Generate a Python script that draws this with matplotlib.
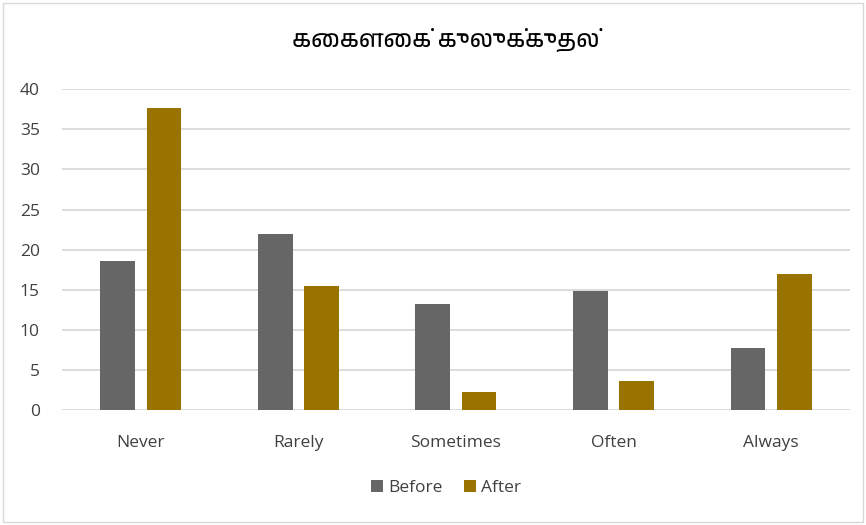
import numpy as np
import matplotlib
matplotlib.use("Agg")
import matplotlib.pyplot as plt
from matplotlib import font_manager
from matplotlib.patches import Rectangle

categories = ["Never", "Rarely", "Sometimes", "Often", "Always"]
before = [18.6, 22.0, 13.2, 14.8, 7.7]
after = [37.7, 15.5, 2.3, 3.6, 17.0]
title = "கைகளைக் குலுக்குதல்"

# look for any installed font that can draw Tamil
names = sorted({f.name for f in font_manager.fontManager.ttflist})
tamil = [n for n in names if "Tamil" in n or "Lohit" in n or "Latha" in n]
title_family = tamil[:1] + ["DejaVu Sans"]

plt.rcParams["font.family"] = ["Open Sans", "DejaVu Sans"]

fig = plt.figure(figsize=(8.66, 5.25), dpi=100)
ax = fig.add_axes([0.0716, 0.219, 0.9099, 0.611])

x = np.arange(len(categories))
w = 0.22
ax.bar(x - 0.147, before, w, color="#666666", label="Before", zorder=3)
ax.bar(x + 0.147, after, w, color="#997300", label="After", zorder=3)

ax.set_xlim(-0.5, 4.5)
ax.set_ylim(0, 40)
ax.set_yticks(range(0, 45, 5))
ax.set_xticks(x)
ax.set_xticklabels(categories)
ax.grid(axis="y", color="#d9d9d9", linewidth=1.3, zorder=0)
for s in ax.spines.values():
    s.set_visible(False)
ax.tick_params(length=0, labelsize=12.5, colors="#404040")
ax.tick_params(axis="x", pad=18)
ax.tick_params(axis="y", pad=16)

fig.text(0.515, 0.924, title, ha="center", va="center", fontsize=17,
         color="#000000", family=title_family)

fig.legend(loc="center", bbox_to_anchor=(0.515, 0.071), ncol=2, frameon=False,
           fontsize=12.5, handlelength=0.7, handleheight=0.7, handletextpad=0.3,
           columnspacing=1.2, labelcolor="#404040")

fig.patches.append(Rectangle((0.003, 0.006), 0.994, 0.988, transform=fig.transFigure,
                             fill=False, edgecolor="#d9d9d9", linewidth=1))

fig.savefig("out.png", dpi=100)
